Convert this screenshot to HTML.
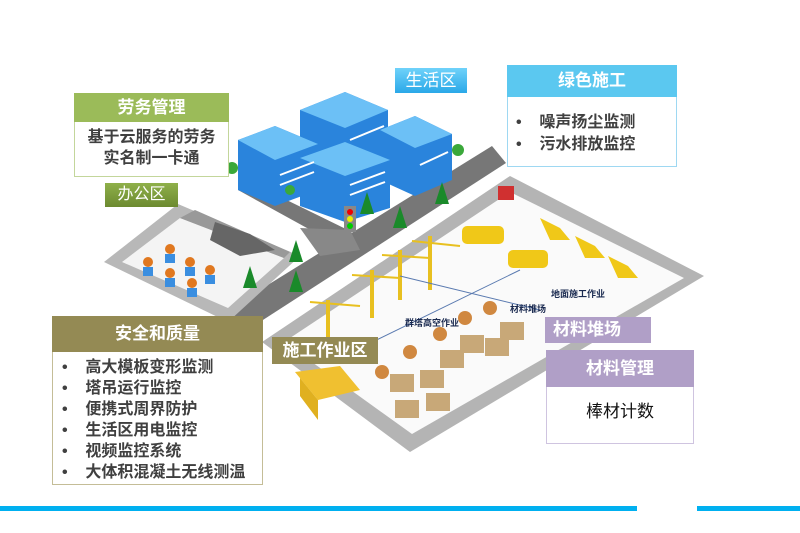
<!DOCTYPE html>
<html><head><meta charset="utf-8"><style>
body{margin:0;width:800px;height:533px;background:#fff;overflow:hidden;position:relative;font-family:"Liberation Sans","Noto Sans CJK SC",sans-serif}
.b{position:absolute;box-sizing:border-box}
.h{color:#fff;font-weight:bold;text-align:center;font-size:17px}
.t{color:#404040;font-weight:bold;font-size:16px}
</style></head><body>
<svg width="800" height="533" style="position:absolute;left:0;top:0">
<!-- construction site -->
<polygon points="510,176 704,276 410,452 262,342" fill="#b4b4b4"/>
<polygon points="510,192 684,278 412,434 284,342" fill="#fafafa"/>
<!-- road -->
<polygon points="492,146 506,163 232,340 208,322" fill="#777"/>
<polygon points="238,190 258,186 352,232 336,244" fill="#777"/>
<polygon points="300,228 350,230 360,250 320,256" fill="#888"/>
<!-- office area -->
<polygon points="178,204 300,256 228,322 104,262" fill="#b8b8b8"/>
<polygon points="180,218 284,258 228,308 122,262" fill="#f4f4f4"/>
<polygon points="195,210 290,252 284,258 180,218" fill="#999"/>
<polygon points="215,222 250,234 275,250 240,256 210,240" fill="#666"/>
<!-- people -->
<g fill="#e07820"><circle cx="170" cy="249" r="5"/><circle cx="148" cy="262" r="5"/><circle cx="190" cy="262" r="5"/><circle cx="170" cy="273" r="5"/><circle cx="210" cy="270" r="5"/><circle cx="192" cy="283" r="5"/></g>
<g fill="#3a8ee0"><rect x="165" y="254" width="10" height="9"/><rect x="143" y="267" width="10" height="9"/><rect x="185" y="267" width="10" height="9"/><rect x="165" y="278" width="10" height="9"/><rect x="205" y="275" width="10" height="9"/><rect x="187" y="288" width="10" height="9"/></g>
<!-- buildings -->
<g>
<polygon points="300,110 345,92 388,110 388,160 345,178 300,160" fill="#2a84dc"/>
<polygon points="300,110 345,92 388,110 345,128" fill="#6cc0f6"/>
<polygon points="380,130 415,116 452,134 452,180 415,196 380,180" fill="#2a84dc"/>
<polygon points="380,130 415,116 452,134 415,148" fill="#6cc0f6"/>
<polygon points="238,140 275,126 318,144 318,190 275,206 238,190" fill="#2a84dc"/>
<polygon points="238,140 275,126 318,144 275,160" fill="#6cc0f6"/>
<polygon points="300,158 345,142 390,160 390,208 345,222 300,206" fill="#2a84dc"/>
<polygon points="300,158 345,142 390,160 345,176" fill="#6cc0f6"/>
<g stroke="#fff" stroke-width="2"><line x1="350" y1="185" x2="385" y2="172"/><line x1="350" y1="195" x2="385" y2="182"/><line x1="280" y1="175" x2="314" y2="162"/><line x1="280" y1="185" x2="314" y2="172"/><line x1="420" y1="165" x2="448" y2="152"/><line x1="350" y1="140" x2="384" y2="126"/></g>
</g>
<g fill="#3aa83a"><circle cx="232" cy="168" r="6"/><circle cx="458" cy="150" r="6"/><circle cx="290" cy="190" r="5"/></g>
<!-- trees -->
<g fill="#1a8a2a"><polygon points="367,192 374,214 360,214"/><polygon points="400,206 407,228 393,228"/><polygon points="442,182 449,204 435,204"/><polygon points="296,240 303,262 289,262"/><polygon points="296,270 303,292 289,292"/><polygon points="250,266 257,288 243,288"/></g>
<rect x="344" y="206" width="12" height="26" fill="#888"/>
<circle cx="350" cy="212" r="3" fill="#e00"/><circle cx="350" cy="219" r="3" fill="#ee0"/><circle cx="350" cy="226" r="3" fill="#0c0"/>
<!-- cranes -->
<g stroke="#e8c020" stroke-width="4" fill="none"><line x1="328" y1="300" x2="328" y2="340"/><line x1="372" y1="270" x2="372" y2="318"/><line x1="400" y1="250" x2="400" y2="300"/><line x1="430" y1="236" x2="430" y2="290"/></g>
<g stroke="#e8c020" stroke-width="2"><line x1="310" y1="302" x2="360" y2="306"/><line x1="352" y1="275" x2="400" y2="278"/><line x1="382" y1="255" x2="430" y2="258"/><line x1="412" y1="241" x2="460" y2="246"/></g>
<!-- trucks -->
<g fill="#f0c818"><rect x="462" y="226" width="42" height="18" rx="5"/><rect x="508" y="250" width="40" height="18" rx="5"/><polygon points="540,218 560,228 570,240 550,240"/><polygon points="575,236 595,246 605,258 585,258"/><polygon points="608,256 628,266 638,278 618,278"/></g>
<rect x="498" y="186" width="16" height="14" fill="#d03030"/>
<!-- materials -->
<g fill="#c8a878"><rect x="390" y="374" width="24" height="18"/><rect x="420" y="370" width="24" height="18"/><rect x="440" y="350" width="24" height="18"/><rect x="460" y="335" width="24" height="18"/><rect x="485" y="338" width="24" height="18"/><rect x="500" y="322" width="24" height="18"/><rect x="395" y="400" width="24" height="18"/><rect x="426" y="393" width="24" height="18"/></g>
<g fill="#d08840"><circle cx="382" cy="372" r="7"/><circle cx="410" cy="352" r="7"/><circle cx="440" cy="334" r="7"/><circle cx="465" cy="318" r="7"/><circle cx="490" cy="308" r="7"/></g>
<!-- bus -->
<polygon points="295,372 340,366 360,390 318,400" fill="#f0c030"/>
<polygon points="300,378 318,400 318,420 300,396" fill="#e0b020"/>
<g stroke="#5a7ab0" stroke-width="1"><line x1="352" y1="352" x2="520" y2="270"/><line x1="400" y1="276" x2="540" y2="310"/></g>
<g font-size="9" font-weight="bold" fill="#1a2a50" font-family="Liberation Sans,Noto Sans CJK SC,sans-serif"><text x="551" y="297">地面施工作业</text><text x="510" y="312">材料堆场</text><text x="405" y="326">群塔高空作业</text></g>
<rect x="0" y="506" width="637" height="5" fill="#00b0f0"/><rect x="697" y="506" width="103" height="5" fill="#00b0f0"/>
</svg>
<div class="b h" style="left:74px;top:93px;width:155px;height:29px;background:#9bbb59;line-height:29px">劳务管理</div>
<div class="b" style="left:74px;top:122px;width:155px;height:55px;background:#fff;border:1px solid #c3d69b;border-top:none;color:#404040;font-weight:bold;font-size:16px;text-align:center;line-height:21px;padding-top:5px">基于云服务的劳务<br>实名制一卡通</div>
<div class="b" style="left:105px;top:183px;width:73px;height:24px;background:linear-gradient(#8fb04a,#6c8a30);color:#fff;font-size:16px;text-align:center;line-height:24px">办公区</div>
<div class="b" style="left:395px;top:68px;width:72px;height:25px;background:linear-gradient(#6fd2fa,#2aa8e8);color:#fff;font-size:17px;text-align:center;line-height:25px">生活区</div>
<div class="b h" style="left:507px;top:65px;width:170px;height:32px;background:#5bc8f0;line-height:32px">绿色施工</div>
<div class="b t" style="left:507px;top:97px;width:170px;height:70px;background:#fff;border:1px solid #9ed8f2;border-top:none;padding:15px 0 0 8px;line-height:22px">•&nbsp;&nbsp;&nbsp;&nbsp;噪声扬尘监测<br>•&nbsp;&nbsp;&nbsp;&nbsp;污水排放监控</div>
<div class="b h" style="left:52px;top:316px;width:211px;height:36px;background:#948a54;line-height:36px">安全和质量</div>
<div class="b t" style="left:52px;top:352px;width:211px;height:133px;background:#fff;border:1px solid #c4bd97;border-top:none;padding:5px 0 0 9px;line-height:21px">•&nbsp;&nbsp;&nbsp;&nbsp;高大模板变形监测<br>•&nbsp;&nbsp;&nbsp;&nbsp;塔吊运行监控<br>•&nbsp;&nbsp;&nbsp;&nbsp;便携式周界防护<br>•&nbsp;&nbsp;&nbsp;&nbsp;生活区用电监控<br>•&nbsp;&nbsp;&nbsp;&nbsp;视频监控系统<br>•&nbsp;&nbsp;&nbsp;&nbsp;大体积混凝土无线测温</div>
<div class="b h" style="left:272px;top:337px;width:106px;height:27px;background:#948a54;line-height:27px">施工作业区</div>
<div class="b h" style="left:545px;top:317px;width:106px;height:26px;background:#b09fc7;line-height:26px;text-align:left;padding-left:8px">材料堆场</div>
<div class="b h" style="left:546px;top:350px;width:148px;height:37px;background:#b09fc7;line-height:37px">材料管理</div>
<div class="b" style="left:546px;top:387px;width:148px;height:57px;background:#fff;border:1px solid #cfc4e0;border-top:none;font-size:17px;text-align:center;line-height:50px;color:#111">棒材计数</div>
</body></html>
